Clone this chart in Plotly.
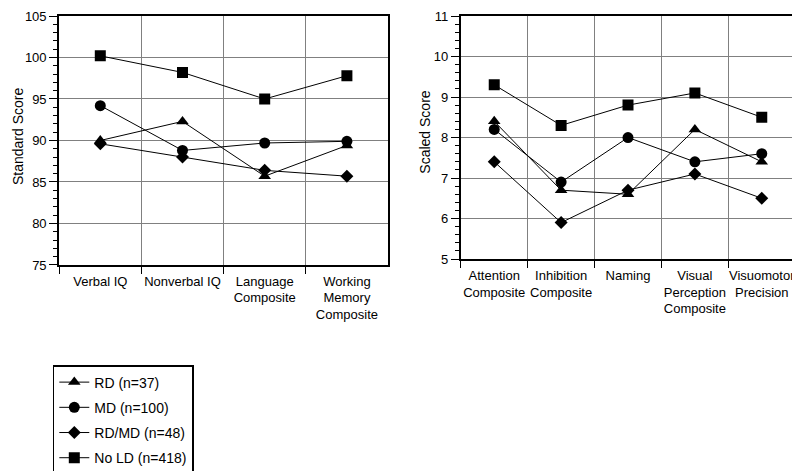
import plotly.graph_objects as go

# left panel: standard scores
left_cats = ["Verbal IQ", "Nonverbal IQ", "Language<br>Composite", "Working<br>Memory<br>Composite"]
left_rd = [90.0, 92.3, 85.7, 89.4]
left_md = [94.2, 88.8, 89.7, 89.9]
left_rdmd = [89.6, 88.0, 86.4, 85.7]
left_nold = [100.2, 98.2, 95.0, 97.8]

# right panel: scaled scores
right_cats = ["Attention<br>Composite", "Inhibition<br>Composite", "Naming",
              "Visual<br>Perception<br>Composite", "Visuomotor<br>Precision"]
right_rd = [8.4, 6.7, 6.6, 8.2, 7.4]
right_md = [8.2, 6.9, 8.0, 7.4, 7.6]
right_rdmd = [7.4, 5.9, 6.7, 7.1, 6.5]
right_nold = [9.3, 8.3, 8.8, 9.1, 8.5]

groups = [
    ("RD (n=37)", "triangle-up", 11, left_rd, right_rd),
    ("MD (n=100)", "circle", 11, left_md, right_md),
    ("RD/MD (n=48)", "diamond", 10, left_rdmd, right_rdmd),
    ("No LD (n=418)", "square", 11, left_nold, right_nold),
]

fig = go.Figure()
for name, sym, sz, lv, rv in groups:
    fig.add_trace(go.Scatter(x=left_cats, y=lv, name=name, mode="lines+markers",
                             line=dict(color="black", width=1),
                             marker=dict(symbol=sym, size=sz, color="black"),
                             legendgroup=name, xaxis="x", yaxis="y"))
    fig.add_trace(go.Scatter(x=right_cats, y=rv, name=name, mode="lines+markers",
                             line=dict(color="black", width=1),
                             marker=dict(symbol=sym, size=sz, color="black"),
                             legendgroup=name, showlegend=False, xaxis="x2", yaxis="y2"))

xax = dict(type="category", tickson="boundaries", ticks="outside", ticklen=7,
           tickcolor="black", showgrid=True, gridcolor="#808080", gridwidth=1,
           showline=True, linecolor="black", linewidth=2, mirror=True,
           tickfont=dict(size=13), tickangle=0, zeroline=False, automargin=False,
           ticklabelstandoff=3)
yax = dict(ticks="outside", ticklen=8, tickcolor="black", showgrid=True,
           gridcolor="#808080", gridwidth=1, showline=True, linecolor="black",
           linewidth=2, mirror=True, zeroline=False, tickfont=dict(size=13),
           automargin=False, ticklabeloverflow="allow")

fig.update_layout(
    width=800, height=471,
    margin=dict(l=0, r=0, t=0, b=0, autoexpand=False),
    paper_bgcolor="white", plot_bgcolor="white",
    font=dict(family="Liberation Sans, Arial, sans-serif", color="black"),
    xaxis=dict(xax, domain=[0.064, 0.475], anchor="y", range=[-0.5, 3.5]),
    yaxis=dict(yax, domain=[0.4544, 0.983], anchor="x", range=[75, 105], dtick=5,
               minor=dict(dtick=1, ticks="outside", ticklen=4, tickcolor="black", showgrid=False)),
    xaxis2=dict(xax, domain=[0.566, 0.984], anchor="y2", range=[-0.5, 4.5]),
    yaxis2=dict(yax, domain=[0.467, 0.983], anchor="x2", range=[5, 11], dtick=1,
                minor=dict(dtick=0.2, ticks="outside", ticklen=4, tickcolor="black", showgrid=False)),
    showlegend=True,
    legend=dict(x=0.056, y=0.242, xanchor="left", yanchor="top",
                bordercolor="black", borderwidth=1.5, font=dict(size=14),
                traceorder="grouped", tracegroupgap=4),
    annotations=[
        dict(text="Standard Score", textangle=-90, xref="paper", yref="paper",
             x=0.0, y=0.726, xanchor="left", yanchor="middle", showarrow=False,
             font=dict(size=14)),
        dict(text="Scaled Score", textangle=-90, xref="paper", yref="paper",
             x=0.521, y=0.737, xanchor="center", yanchor="middle", showarrow=False,
             font=dict(size=14)),
    ],
)

fig.write_html("out.html")
